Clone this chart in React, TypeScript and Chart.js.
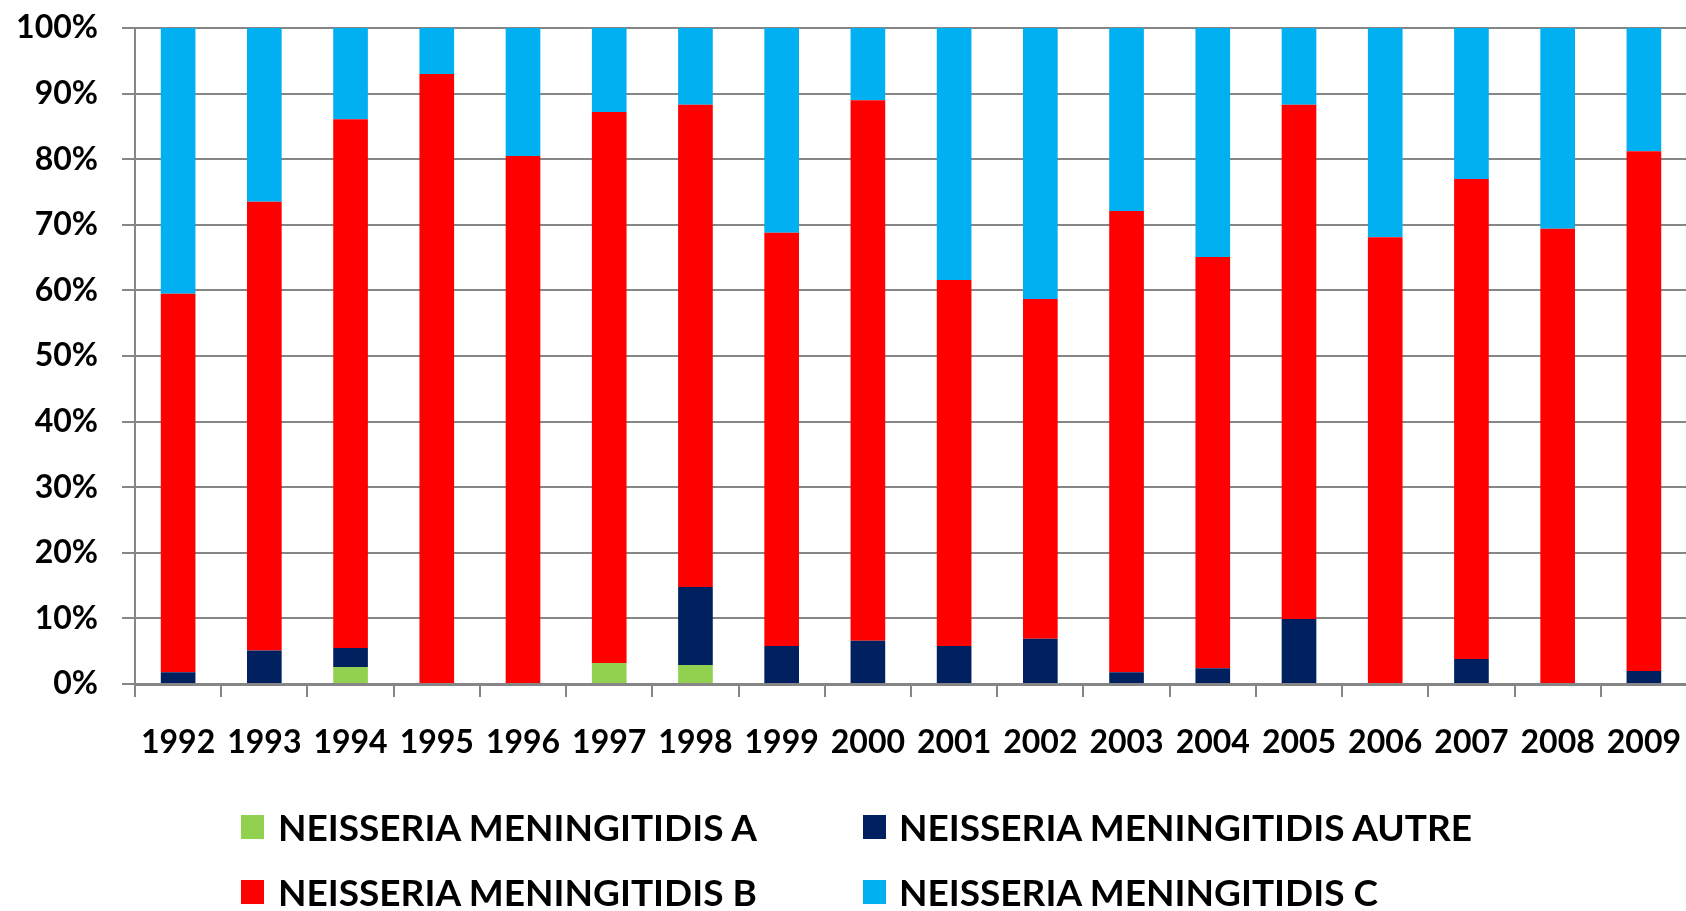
import React, { useEffect, useRef } from "react";
import { Chart, registerables } from "chart.js";

Chart.register(...registerables);

const years = ["1992", "1993", "1994", "1995", "1996", "1997", "1998", "1999", "2000", "2001", "2002", "2003", "2004", "2005", "2006", "2007", "2008", "2009"];
const serogroupA = [0, 0, 2.6, 0, 0, 3.2, 2.9, 0, 0, 0, 0, 0, 0, 0, 0, 0, 0, 0];
const serogroupAutre = [1.8, 5.1, 2.9, 0, 0, 0, 11.9, 5.8, 6.6, 5.8, 6.9, 1.8, 2.4, 9.9, 0, 3.8, 0, 2.0];
const serogroupB = [57.7, 68.4, 80.6, 93.0, 80.5, 84.0, 73.5, 63.0, 82.4, 55.8, 51.8, 70.3, 62.7, 78.4, 68.1, 73.2, 69.4, 79.2];
const serogroupC = [40.5, 26.5, 13.9, 7.0, 19.5, 12.8, 11.7, 31.2, 11.0, 38.4, 41.3, 27.9, 34.9, 11.7, 31.9, 23.0, 30.6, 18.8];
const yTickValues = [0, 10, 20, 30, 40, 50, 60, 70, 80, 90, 100];

const seriesNames = [
  "NEISSERIA MENINGITIDIS A",
  "NEISSERIA MENINGITIDIS AUTRE",
  "NEISSERIA MENINGITIDIS B",
  "NEISSERIA MENINGITIDIS C",
];
const seriesColors = ["#92D050", "#002060", "#FF0000", "#00B0F0"];

const GRID = "#868686";
const FONT = "Lato, 'Open Sans', sans-serif";

export default function App() {
  const canvasRef = useRef<HTMLCanvasElement>(null);

  useEffect(() => {
    const canvas = canvasRef.current;
    if (!canvas) return;
    const values = [serogroupA, serogroupAutre, serogroupB, serogroupC];
    const chart = new Chart(canvas, {
      type: "bar",
      data: {
        labels: years,
        datasets: values.map((d, i) => ({
          label: seriesNames[i],
          data: d,
          backgroundColor: seriesColors[i],
          borderWidth: 0,
          barPercentage: 0.402,
          categoryPercentage: 1,
        })),
      },
      options: {
        animation: false,
        responsive: false,
        maintainAspectRatio: false,
        devicePixelRatio: 1,
        layout: { padding: { top: 28, right: 3, bottom: 127, left: 0 } },
        plugins: {
          legend: { display: false },
          tooltip: { enabled: false },
        },
        scales: {
          x: {
            stacked: true,
            grid: {
              offset: true,
              drawOnChartArea: false,
              color: GRID,
              lineWidth: 2,
              tickLength: 13,
            },
            border: { color: GRID, width: 3 },
            ticks: {
              color: "#000",
              font: { family: FONT, size: 32, weight: "bold" },
              padding: 26,
              maxRotation: 0,
              autoSkip: false,
            },
            afterFit: (s: any) => {
              s.height = 100;
              s.paddingLeft = 0;
              s.paddingRight = 0;
            },
          },
          y: {
            stacked: true,
            min: 0,
            max: 100,
            afterBuildTicks: (s: any) => {
              s.ticks = yTickValues.map((v) => ({ value: v }));
            },
            ticks: {
              color: "#000",
              font: { family: FONT, size: 32, weight: "bold" },
              padding: 24,
              callback: (v: any) => v + "%",
            },
            grid: { color: GRID, lineWidth: 2, tickLength: 13 },
            border: { color: GRID, width: 2 },
            afterFit: (s: any) => {
              s.width = 135;
              s.paddingTop = 0;
              s.paddingBottom = 0;
            },
          },
        },
      },
    });
    return () => chart.destroy();
  }, []);

  const legendPos = [
    { left: 241, text: 278, top: 827 },
    { left: 863, text: 899, top: 827 },
    { left: 241, text: 278, top: 892 },
    { left: 863, text: 899, top: 892 },
  ];

  return (
    <div style={{ position: "absolute", left: 0, top: 0, width: 1686, height: 911, overflow: "hidden", background: "#fff" }}>
      <canvas ref={canvasRef} width={1690} height={911} style={{ width: 1690, height: 911, display: "block" }} />
      {seriesNames.map((name, i) => (
        <React.Fragment key={name}>
          <div
            style={{
              position: "absolute",
              left: legendPos[i].left,
              top: legendPos[i].top - 12,
              width: 23,
              height: 24,
              background: seriesColors[i],
            }}
          />
          <div
            style={{
              position: "absolute",
              left: legendPos[i].text,
              top: legendPos[i].top - 25,
              height: 50,
              lineHeight: "50px",
              fontFamily: FONT,
              fontWeight: 700,
              fontSize: 37,
              color: "#000",
              whiteSpace: "nowrap",
            }}
          >
            {name}
          </div>
        </React.Fragment>
      ))}
    </div>
  );
}
